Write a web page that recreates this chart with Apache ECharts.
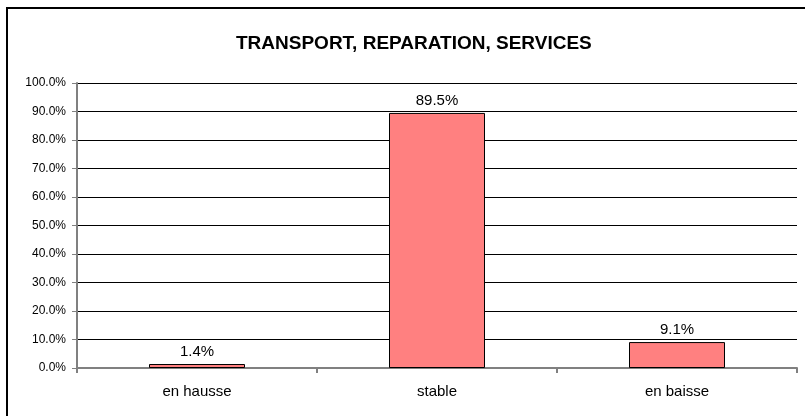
<!DOCTYPE html>
<html><head><meta charset="utf-8">
<script src="https://cdn.jsdelivr.net/npm/echarts@6/dist/echarts.min.js"></script>
<style>html,body{margin:0;padding:0;background:#fff}#c{width:805px;height:416px}</style>
</head><body><div id="c"></div>
<script>
const titleText = 'TRANSPORT, REPARATION, SERVICES';
const categories = ['en hausse', 'stable', 'en baisse'];
const values = [1.4, 89.5, 9.1];
const yTicks = [0, 10, 20, 30, 40, 50, 60, 70, 80, 90, 100];

const chart = echarts.init(document.getElementById('c'), null, {renderer: 'canvas'});
chart.setOption({
  animation: false,
  backgroundColor: '#fff',
  title: {
    text: titleText, left: 231, top: 29,
    textStyle: {fontFamily: 'Liberation Sans, Arial', fontSize: 19, fontWeight: 'bold', color: '#000'}
  },
  graphic: [{
    type: 'rect', shape: {x: 7, y: 8, width: 820, height: 430},
    style: {fill: 'none', stroke: '#000', lineWidth: 2}, silent: true
  }],
  grid: {left: 77, right: 8, top: 83, bottom: 48, containLabel: false},
  xAxis: {
    type: 'category', data: categories,
    axisLine: {lineStyle: {color: '#808080', width: 2}},
    axisTick: {show: true, length: 5, alignWithLabel: false, lineStyle: {color: '#808080', width: 2}},
    axisLabel: {fontFamily: 'Liberation Sans, Arial', fontSize: 15, color: '#000', margin: 16}
  },
  yAxis: {
    type: 'value', min: yTicks[0], max: yTicks[yTicks.length - 1], interval: 10,
    axisLine: {show: true, lineStyle: {color: '#808080', width: 2}},
    axisTick: {show: true, length: 5, lineStyle: {color: '#808080', width: 1}},
    splitLine: {show: true, lineStyle: {color: '#000', width: 1}},
    axisLabel: {fontFamily: 'Liberation Sans, Arial', fontSize: 12, color: '#000', margin: 11,
      formatter: v => v.toFixed(1) + '%'}
  },
  series: [{
    type: 'bar', data: values, barWidth: '40%',
    itemStyle: {color: '#FF8080', borderColor: '#000', borderWidth: 1},
    label: {show: true, position: 'top', distance: 5, fontFamily: 'Liberation Sans, Arial', fontSize: 15, color: '#000',
      formatter: p => p.value.toFixed(1) + '%'}
  }]
});
</script></body></html>
